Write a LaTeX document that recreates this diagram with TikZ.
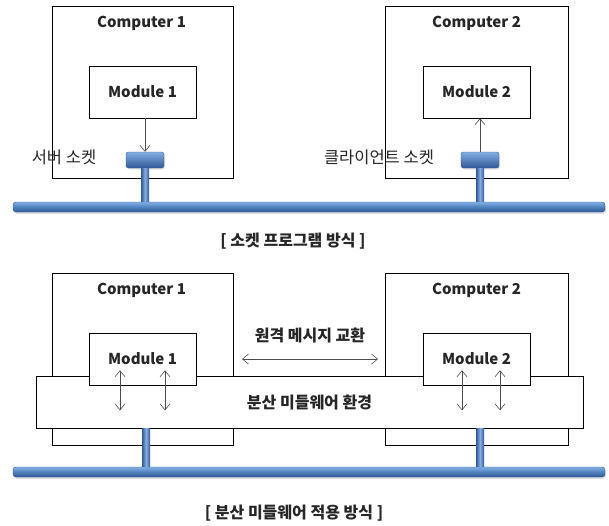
\documentclass[tikz,border=0pt]{standalone}
\usepackage{fontspec}
\setmainfont{Noto Sans CJK KR}
\usepackage{tikz}
\usetikzlibrary{arrows.meta,calc,shadows}

\definecolor{busblue}{RGB}{79,129,189}
\definecolor{buslight}{RGB}{130,175,228}
\definecolor{busdark}{RGB}{48,88,150}

\begin{document}
\begin{tikzpicture}[x=1pt,y=-1pt,
    box/.style={draw,fill=white,line width=0.6pt,inner sep=0pt},
    title/.style={font=\fontsize{15}{17}\selectfont\bfseries,text=black!85},
    label/.style={font=\fontsize{16.5}{18}\selectfont,text=black!85},
    strong/.style={font=\fontsize{16}{18}\selectfont\bfseries,text=black!85},
    bus/.style={draw=busdark,line width=0.4pt,rounded corners=3pt,inner sep=0pt,
      top color=buslight,bottom color=busdark,middle color=busblue,
      drop shadow={opacity=0.25,shadow xshift=1pt,shadow yshift=-2pt}},
    socket/.style={draw=busdark,line width=0.4pt,rounded corners=2.5pt,inner sep=0pt,
      minimum width=38pt,minimum height=16pt,top color=buslight,bottom color=busdark,
      drop shadow={opacity=0.2,shadow xshift=1pt,shadow yshift=-1.5pt}},
    stem/.style={left color=busdark,right color=busdark,middle color=buslight},
    link/.style={-{Straight Barb[length=6pt,width=10pt]},draw=black!70,line width=0.6pt},
    both/.style={{Straight Barb[length=6pt,width=10pt]}-{Straight Barb[length=6pt,width=10pt]},
      draw=black!70,line width=0.6pt}]

  \useasboundingbox (0,0) rectangle (609,525);

  %socket%
  \node[box,minimum width=181pt,minimum height=172pt] (c1) at (142.5,92) {};
  \node[box,minimum width=183pt,minimum height=172pt] (c2) at (476.5,92) {};
  \node[title] (t1) at ($(c1.north)+(-1,18)$) {Computer 1};
  \node[title] (t2) at ($(c2.north)+(0,18)$) {Computer 2};
  \node[box,title,minimum width=107pt,minimum height=52pt] (m1) at (142.5,92) {Module 1};
  \node[box,title,minimum width=107pt,minimum height=52pt] (m2) at (476.5,92) {Module 2};

  \node[bus,minimum width=592pt,minimum height=10pt] (bus1) at (309,207) {};
  \node[socket] (s1) at (145,160) {};
  \node[socket] (s2) at (480,160) {};
  \shade[stem] ($(s1.south)+(-4,0)$) rectangle ($(s1.south |- bus1.north)+(4,0)$);
  \shade[stem] ($(s2.south)+(-4,0)$) rectangle ($(s2.south |- bus1.north)+(4,0)$);

  \draw[link] (s1.north |- m1.south) -- (s1.north);
  \draw[link] (s2.north) -- (s2.north |- m2.south);

  \node[label] (sl1) at (64,157) {서버 소켓};
  \node[label] (sl2) at (379,157) {클라이언트 소켓};
  \node[strong] (cap1) at (293,241) {[ 소켓 프로그램 방식 ]};

  %middleware%
  \node[box,minimum width=181pt,minimum height=172pt] (c3) at (142.5,359) {};
  \node[box,minimum width=183pt,minimum height=172pt] (c4) at (476.5,359) {};
  \node[title] (t3) at ($(c3.north)+(-1,18)$) {Computer 1};
  \node[title] (t4) at ($(c4.north)+(0,18)$) {Computer 2};
  \node[box,strong,minimum width=547pt,minimum height=52pt] (mw) at (309.5,402) {분산 미들웨어 환경};
  \node[box,title,minimum width=107pt,minimum height=52pt] (m3) at (142.5,359) {Module 1};
  \node[box,title,minimum width=107pt,minimum height=52pt] (m4) at (476.5,359) {Module 2};

  \node[bus,minimum width=592pt,minimum height=10pt] (bus2) at (309,472) {};
  \coordinate (j1) at (146,428);
  \coordinate (j2) at (480,428);
  \shade[stem] ($(j1)+(-4,0)$) rectangle ($(j1 |- bus2.north)+(4,0)$);
  \shade[stem] ($(j2)+(-4,0)$) rectangle ($(j2 |- bus2.north)+(4,0)$);

  \draw[both] ($(m3.south)+(-22.5,-15)$) -- ++(0,40);
  \draw[both] ($(m3.south)+(22.5,-15)$) -- ++(0,40);
  \draw[both] ($(m4.south)+(-14.5,-15)$) -- ++(0,40);
  \draw[both] ($(m4.south)+(23.5,-15)$) -- ++(0,40);

  \node[strong] (msg) at (310,335) {원격 메시지 교환};
  \coordinate (ex1) at (242,359);
  \coordinate (ex2) at (378,359);
  \draw[both] (ex1) -- (ex2);

  \node[strong] (cap2) at (294,513) {[ 분산 미들웨어 적용 방식 ]};
\end{tikzpicture}
\end{document}
